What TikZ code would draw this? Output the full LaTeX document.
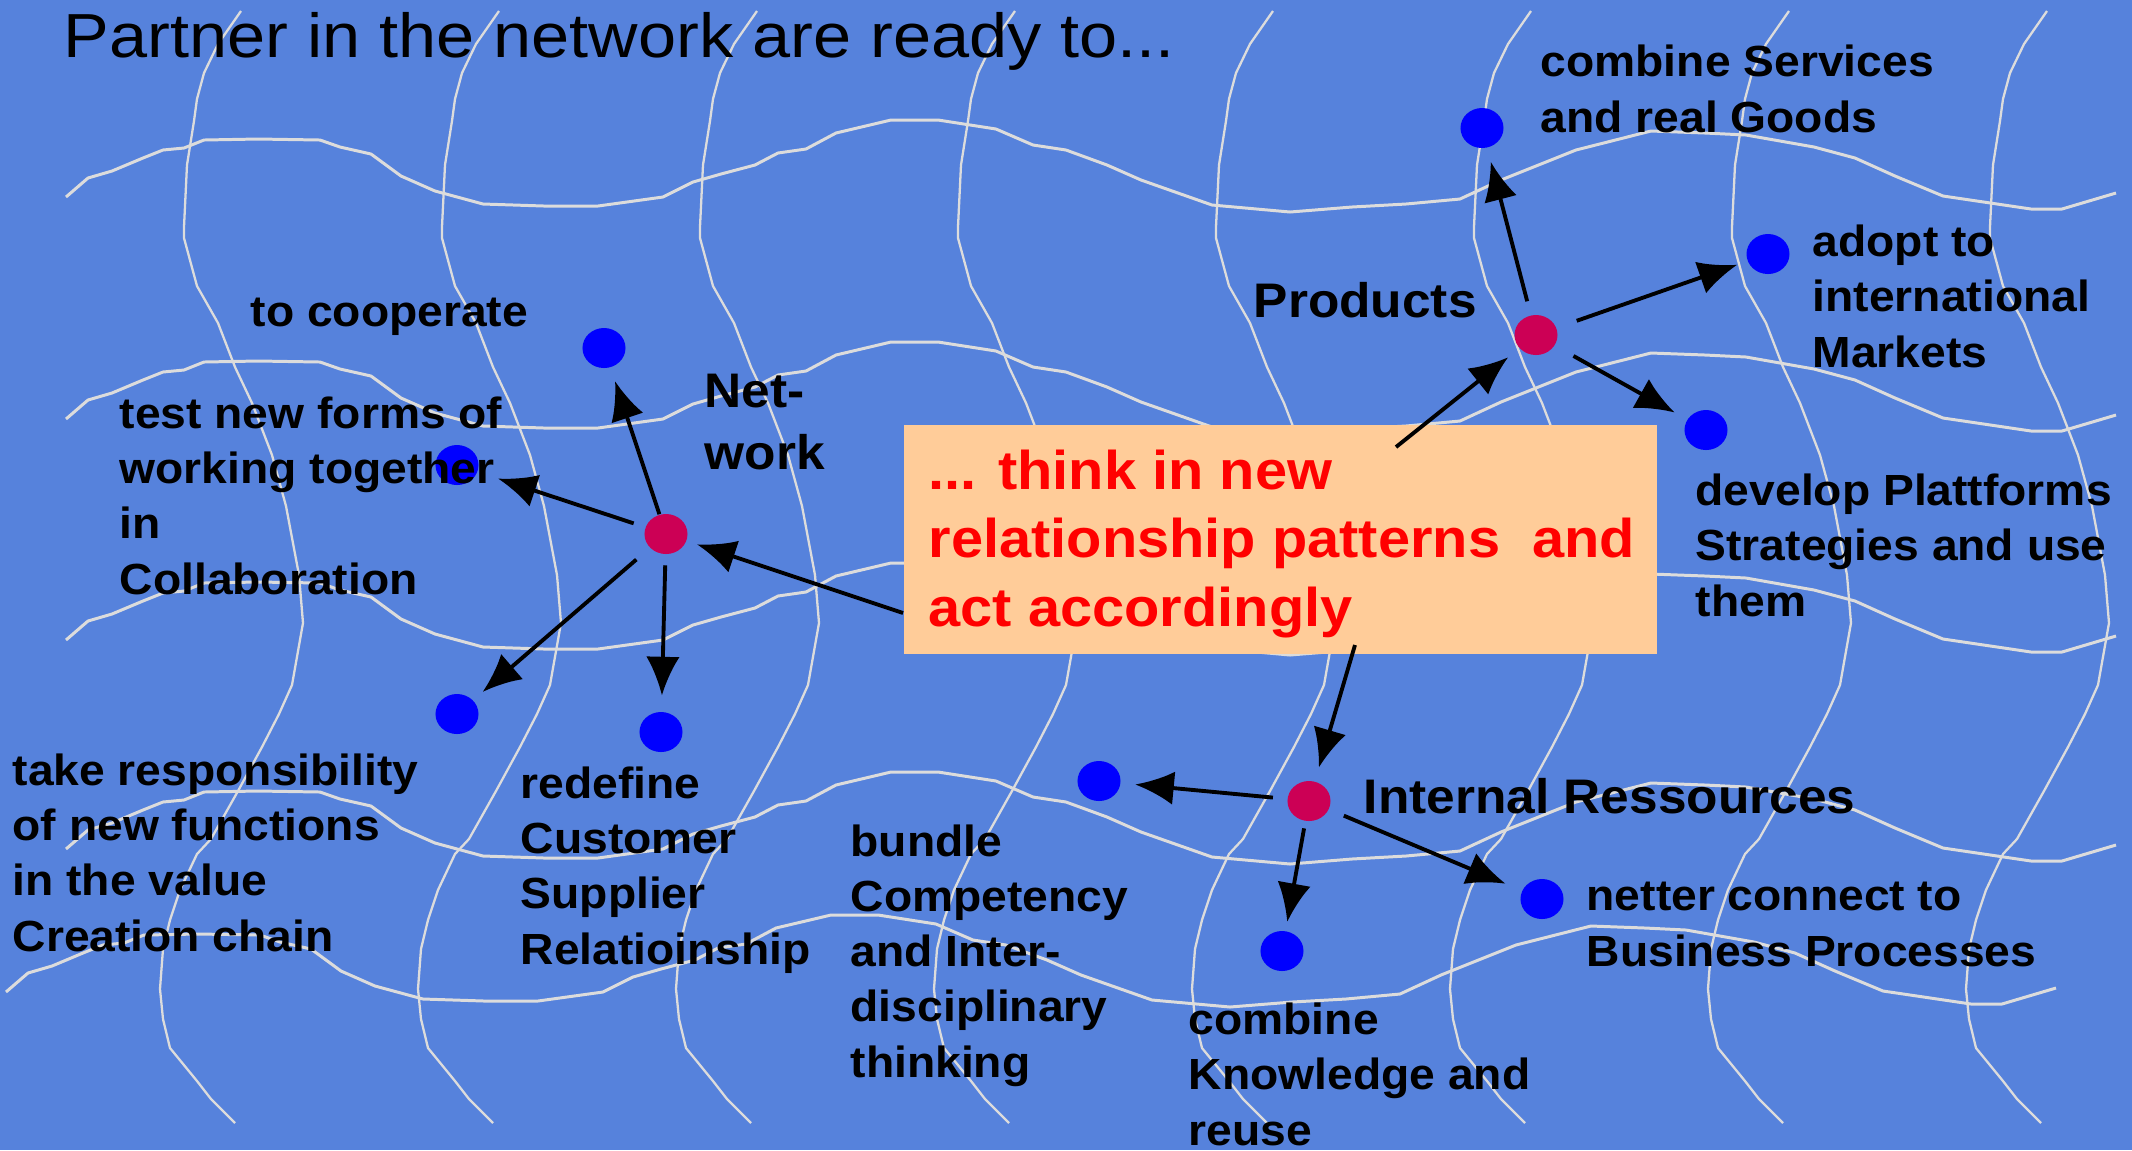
\documentclass[tikz,border=0pt]{standalone}
\usepackage{fontspec}
\setmainfont[FakeStretch=1.06]{Liberation Sans}
\newfontfamily\titlefont[FakeStretch=1.1]{Liberation Sans}
\usepackage{xcolor}
\usepackage{tikz}
\usetikzlibrary{shapes.geometric,arrows.meta}

\definecolor{bgblue}{HTML}{5682DC}
\definecolor{gridgray}{HTML}{DCDCDC}
\definecolor{peach}{HTML}{FFCC99}
\definecolor{hubred}{HTML}{CC0055}
\definecolor{goalblue}{HTML}{0000FF}

\tikzset{
  hline/.style={draw=gridgray, line width=0.85pt, line join=round},
  vline/.style={draw=gridgray, line width=0.65pt, line join=round},
  hub/.style={ellipse, fill=hubred, minimum width=0.43cm, minimum height=0.40cm, inner sep=0pt},
  goal/.style={ellipse, fill=goalblue, minimum width=0.43cm, minimum height=0.40cm, inner sep=0pt},
  lbl/.style={align=left, anchor=base west, inner sep=0pt, font=\bfseries\fontsize{12.4}{15.65}\selectfont},
  biglbl/.style={lbl, font=\bfseries\fontsize{13.8}{17.6}\selectfont},
  arr/.style={-{Latex[length=11pt,width=9.5pt]}, line width=1.1pt, shorten >=4pt, shorten <=4pt},
}

\begin{document}
\begin{tikzpicture}[x=0.01cm, y=-0.01cm]

	\useasboundingbox (0,0) rectangle (2132,1150);
	\fill[bgblue] (0,0) rectangle (2132,1150);
	\clip (0,0) rectangle (2132,1150);

	\foreach \dx/\dy in {0/0, 0/222, 0/443, 0/652, -60/795}
		\draw[hline, shift={(\dx,\dy)}] (66,197) -- (88,178) -- (112,171) -- (143,158) -- (163,150) -- (184,148) -- (204,140) -- (258,139) -- (320,140) -- (340,147) -- (371,154) -- (401,176) -- (435,191) -- (483,204) -- (544,206) -- (598,206) -- (663,197) -- (693,182) -- (721,174) -- (755,165) -- (778,153) -- (806,149) -- (836,133) -- (891,120) -- (938,120) -- (996,129) -- (1033,145) -- (1066,150) -- (1107,165) -- (1141,180) -- (1212,205) -- (1290,212) -- (1352,207) -- (1406,204) -- (1460,199) -- (1501,180) -- (1576,150) -- (1651,131) -- (1705,133) -- (1746,135) -- (1814,147) -- (1855,158) -- (1895,176) -- (1943,196) -- (2031,209) -- (2062,209) -- (2116,193);

	\foreach \k in {0,...,7}
		\draw[vline, shift={(\k*258,0)}] (241,11) -- (218,44) -- (204,73) -- (197,99) -- (194,121) -- (187,165) -- (184,227) -- (184,238) -- (197,286) -- (218,323) -- (235,367) -- (252,403) -- (272,455) -- (286,506) -- (299,575) -- (303,623) -- (292,685) -- (279,714) -- (262,747) -- (238,791) -- (211,839) -- (197,854) -- (180,890) -- (170,920) -- (163,949) -- (160,989) -- (163,1019) -- (170,1048) -- (197,1081) -- (211,1099) -- (235,1123);

	\node[anchor=base west, inner sep=0pt, font=\titlefont\fontsize{17.7}{21}\selectfont] (title) at (63,57) {Partner in the network are ready to...};

	\node[hub] (nethub) at (666,534) {};
	\node[goal] (coopdot) at (604,348) {};
	\node[goal] (testdot) at (457,465) {};
	\node[goal] (takedot) at (457,714) {};
	\node[goal] (redefdot) at (661,732) {};

	\node[hub] (prodhub) at (1536,335) {};
	\node[goal] (servdot) at (1482,128) {};
	\node[goal] (adoptdot) at (1768,254) {};
	\node[goal] (devdot) at (1706,430) {};

	\node[hub] (inthub) at (1309,801) {};
	\node[goal] (bundledot) at (1099,781) {};
	\node[goal] (knowdot) at (1282,951) {};
	\node[goal] (netterdot) at (1542,899) {};

	\node[lbl] (cooplbl) at (250,326) {to cooperate};
	\node[lbl] (testlbl) at (119,594) {test new forms of\\working together\\in\\Collaboration};
	\node[lbl] (takelbl) at (12,951) {take responsibility\\of new functions\\in the value\\Creation chain};
	\node[lbl] (redeflbl) at (520,964) {redefine\\Customer\\Supplier\\Relatioinship};
	\node[lbl] (bundlelbl) at (850,1077) {bundle\\Competency\\and Inter-\\disciplinary\\thinking};
	\node[biglbl] (netlbl) at (704,469) {Net-\\work};

	\node[biglbl] (prodlbl) at (1253,317) {Products};
	\node[lbl] (servlbl) at (1540,132) {combine Services\\and real Goods};
	\node[lbl] (adoptlbl) at (1812,367) {adopt to\\international\\Markets};
	\node[lbl] (devlbl) at (1695,616) {develop Plattforms\\Strategies and use\\them};

	\node[biglbl] (intlbl) at (1363,813) {Internal Ressources};
	\node[lbl] (netterlbl) at (1586,966) {netter connect to\\Business Processes};
	\node[lbl] (knowlbl) at (1188,1145) {combine\\Knowledge and\\reuse};

	\node[fill=peach, anchor=north west, minimum width=7.53cm, minimum height=2.29cm, inner sep=0pt] (thinkbox) at (903,424) {};
	\node[anchor=base west, inner sep=0pt, align=left, text=red, font=\bfseries\fontsize{15.5}{19.35}\selectfont] (thinktext) at (928,626) {... think in new\\relationship patterns~ and\\act accordingly};

	\coordinate (fromnet) at (903,613);
	\coordinate (fromprod) at (1396,447);
	\coordinate (fromint) at (1355,645);

	\draw[arr, shorten <=0pt, shorten >=3pt] (fromnet) -- (nethub);
	\draw[arr, shorten <=0pt] (fromprod) -- (prodhub);
	\draw[arr, shorten <=0pt] (fromint) -- (inthub);

	\draw[arr, shorten <=0pt] (nethub) -- (coopdot);
	\draw[arr, shorten <=3.4pt, shorten >=6pt] (nethub) -- (testdot);
	\draw[arr, shorten <=5pt, shorten >=3.5pt] (nethub) -- (takedot);
	\draw[arr, shorten <=3pt, shorten >=4.5pt] (nethub) -- (redefdot);

	\draw[arr] (prodhub) -- (servdot);
	\draw[arr, shorten <=6pt, shorten >=3pt] (prodhub) -- (adoptdot);
	\draw[arr, shorten <=6pt] (prodhub) -- (devdot);

	\draw[arr] (inthub) -- (bundledot);
	\draw[arr, shorten <=2pt, shorten >=2.5pt] (inthub) -- (knowdot);
	\draw[arr, shorten <=4.5pt, shorten >=5pt] (inthub) -- (netterdot);

\end{tikzpicture}
\end{document}
